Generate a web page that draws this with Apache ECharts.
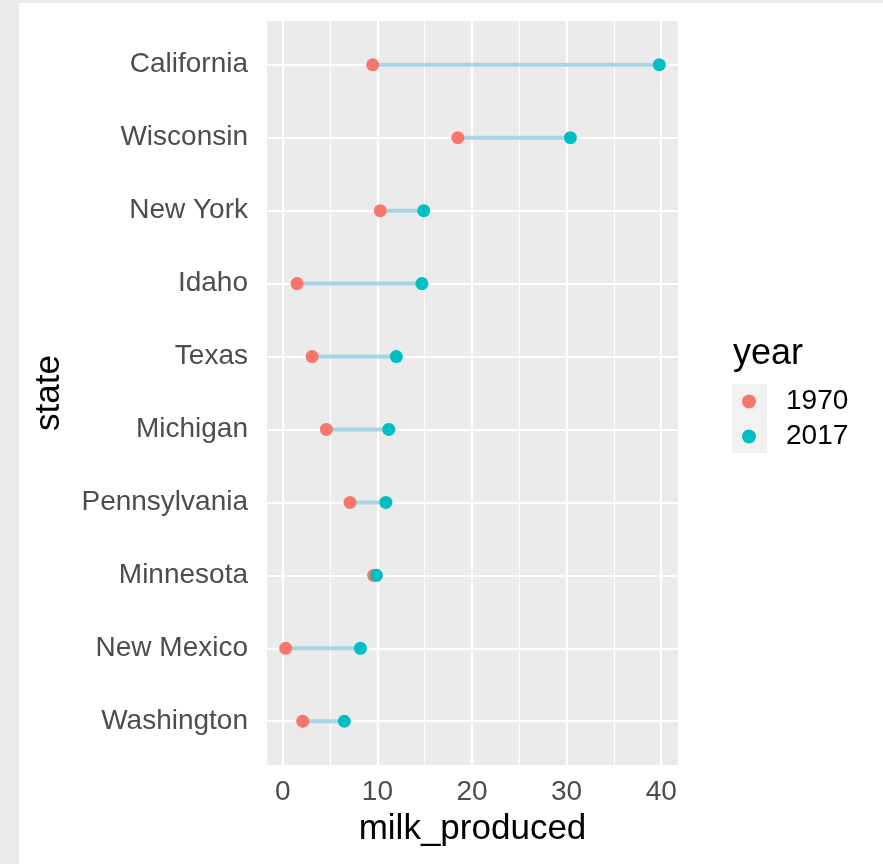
<!DOCTYPE html>
<html><head><meta charset="utf-8">
<script src="https://cdn.jsdelivr.net/npm/echarts@6/dist/echarts.min.js"></script>
<style>html,body{margin:0;padding:0;background:#fff}#c{width:883px;height:864px}</style>
</head><body><div id="c"></div>
<script>
const states = ['California','Wisconsin','New York','Idaho','Texas','Michigan','Pennsylvania','Minnesota','New Mexico','Washington'];
const milk1970 = [9.5, 18.5, 10.3, 1.5, 3.1, 4.6, 7.1, 9.6, 0.3, 2.1];
const milk2017 = [39.8, 30.4, 14.9, 14.7, 12.0, 11.2, 10.9, 9.9, 8.2, 6.5];
const xTicks = [0, 10, 20, 30, 40];
const xMinor = [5, 15, 25, 35];
const years = ['1970', '2017'];

const FONT = "'Liberation Sans', Arial, Helvetica, sans-serif";
const allVals = milk1970.concat(milk2017);
const dMin = Math.min(...allVals), dMax = Math.max(...allVals);
const pad = (dMax - dMin) * 0.05;
const yIdx = states.map((s, i) => i);

const chart = echarts.init(document.getElementById('c'), null, {renderer: 'canvas'});
chart.setOption({
  animation: false,
  backgroundColor: '#ffffff',
  textStyle: {fontFamily: FONT},
  graphic: [
    {type: 'rect', left: 0, top: 0, shape: {width: 19, height: 864}, style: {fill: '#EBEBEB'}, z: -1},
    {type: 'rect', left: 0, top: 0, shape: {width: 883, height: 3}, style: {fill: '#EBEBEB'}, z: -1},
    {type: 'rect', left: 732, top: 384, shape: {width: 35, height: 69}, style: {fill: '#F2F2F2'}, z: 0},
    {type: 'text', left: 733, top: 336, style: {text: 'year', fontSize: 36, fill: '#000', fontFamily: FONT}, z: 1}
  ],
  grid: {left: 267, right: 205, top: 21, bottom: 99, show: true, backgroundColor: '#EBEBEB', borderWidth: 0, containLabel: false},
  legend: {
    data: years, orient: 'vertical', left: 742, top: 384, itemWidth: 14, itemHeight: 14, itemGap: 0,
    icon: 'circle', padding: 0,
    textStyle: {fontSize: 28, color: '#000', lineHeight: 35, padding: [0, 0, 0, 25], fontFamily: FONT}
  },
  xAxis: {
    type: 'value', min: dMin - pad, max: dMax + pad,
    name: 'milk_produced', nameLocation: 'middle', nameGap: 47,
    nameTextStyle: {fontSize: 35, color: '#000', fontFamily: FONT},
    axisLine: {show: false},
    axisTick: {show: true, length: 9, lineStyle: {color: '#333', width: 2}, customValues: xTicks},
    axisLabel: {fontSize: 28, color: '#4D4D4D', margin: 13, customValues: xTicks, fontFamily: FONT},
    splitLine: {show: false}
  },
  yAxis: {
    type: 'value', min: -0.6, max: states.length - 1 + 0.6, inverse: true,
    name: 'state', nameLocation: 'middle', nameGap: 200, nameRotate: 90,
    nameTextStyle: {fontSize: 35, color: '#000', fontFamily: FONT},
    axisLine: {show: false},
    axisTick: {show: true, length: 9, lineStyle: {color: '#333', width: 2}, customValues: yIdx},
    axisLabel: {fontSize: 28, color: '#4D4D4D', margin: 19, customValues: yIdx, fontFamily: FONT,
      formatter: v => states[Math.round(v)] || ''},
    splitLine: {show: false}
  },
  series: [
    {
      type: 'scatter', name: 'grid', data: [], z: 1, silent: true, legendHoverLink: false,
      markLine: {
        silent: true, symbol: 'none', label: {show: false}, animation: false, z: 1,
        data: [
          ...xMinor.map(v => ({xAxis: v, lineStyle: {color: '#fff', width: 1.1, type: 'solid'}})),
          ...xTicks.map(v => ({xAxis: v, lineStyle: {color: '#fff', width: 2.2, type: 'solid'}})),
          ...yIdx.map(v => ({yAxis: v, lineStyle: {color: '#fff', width: 2.2, type: 'solid'}}))
        ]
      }
    },
    {
      type: 'custom', name: 'segments', z: 2, silent: true,
      data: states.map((s, i) => [i, milk1970[i], milk2017[i]]),
      encode: {x: [1, 2], y: 0},
      renderItem: function (params, api) {
        const i = api.value(0);
        const p1 = api.coord([api.value(1), i]);
        const p2 = api.coord([api.value(2), i]);
        return {type: 'line', shape: {x1: p1[0], y1: p1[1], x2: p2[0], y2: p2[1]},
          style: {stroke: '#A8D5E4', lineWidth: 4}};
      }
    },
    {
      type: 'scatter', name: '1970', z: 3, symbolSize: 13, itemStyle: {color: '#F8766D', opacity: 1},
      data: states.map((s, i) => [milk1970[i], i])
    },
    {
      type: 'scatter', name: '2017', z: 4, symbolSize: 13, itemStyle: {color: '#00BFC4', opacity: 1},
      data: states.map((s, i) => [milk2017[i], i])
    }
  ]
});
</script></body></html>
